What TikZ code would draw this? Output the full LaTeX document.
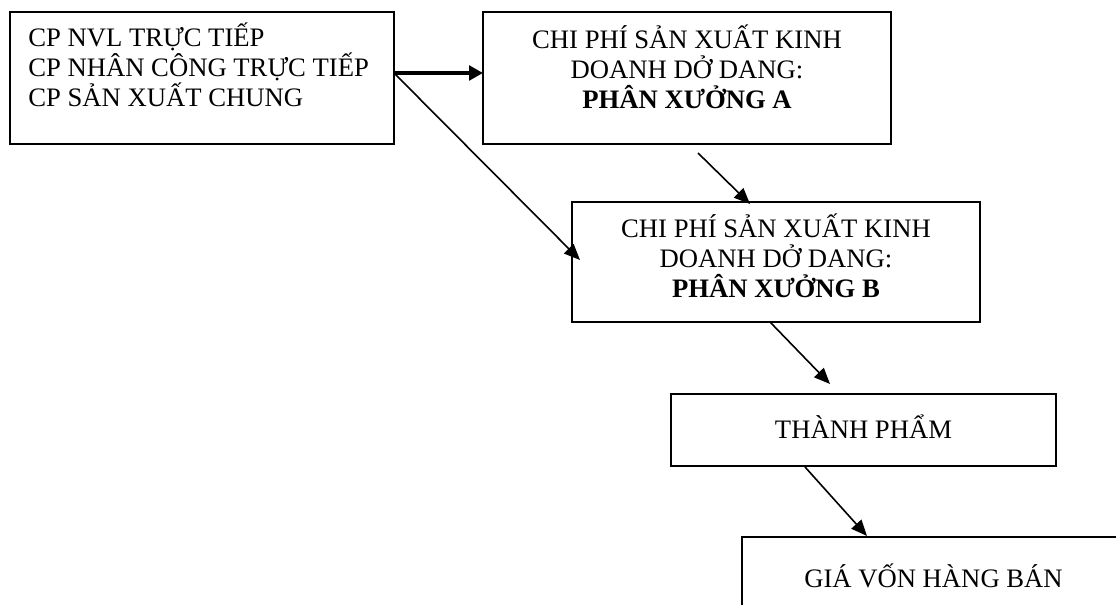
\documentclass[tikz,border=0pt]{standalone}
\usepackage{fontspec}
\setmainfont{Liberation Serif}
\usetikzlibrary{arrows.meta,calc}

\tikzset{
  box/.style={draw, line width=1.4pt, outer sep=0pt, inner sep=0pt},
  label text/.style={inner sep=0pt, font=\fontsize{20}{22.5}\selectfont, align=center},
  flow/.style={line width=1.2pt, -{Triangle[length=12pt,width=10pt]}},
  mainflow/.style={line width=3pt, -{Triangle[length=10.5pt,width=11pt]}}
}

\begin{document}
\begin{tikzpicture}[x=0.75pt, y=-0.75pt]
  \useasboundingbox (0,0) rectangle (1116,605);
  \fill[white] (0,0) rectangle (1116,605);
  \clip (0,0) rectangle (1116,605);

  % boxes
  \node[box, minimum width=288pt,    minimum height=99pt] (src) at (202,78) {};
  \node[box, minimum width=306pt,    minimum height=99pt] (A)   at (687,78) {};
  \node[box, minimum width=306pt,    minimum height=90pt] (B)   at (776,262) {};
  \node[box, minimum width=288.75pt, minimum height=54pt] (TP)  at (863.5,430) {};
  \node[box, minimum width=287.25pt, minimum height=60pt] (GV)  at (933.5,577) {};

  % box texts
  \node[label text, align=left, anchor=west] (srcT) at ($(src.west)+(18,-13)$)
    {CP NVL TRỰC TIẾP\\CP NHÂN CÔNG TRỰC TIẾP\\CP SẢN XUẤT CHUNG};
  \node[label text] (AT) at ($(A.center)+(0,-11)$)
    {CHI PHÍ SẢN XUẤT KINH\\DOANH DỞ DANG:\\\textbf{PHÂN XƯỞNG A}};
  \node[label text] (BT) at ($(B.center)+(0,-6)$)
    {CHI PHÍ SẢN XUẤT KINH\\DOANH DỞ DANG:\\\textbf{PHÂN XƯỞNG B}};
  \node[label text] (TPT) at ($(TP.center)+(0,-3)$) {THÀNH PHẨM};
  \node[label text] (GVT) at ($(GV.center)+(0,-1)$) {GIÁ VỐN HÀNG BÁN};

  \coordinate (r1) at (0,73);

  % connectors
  \draw[mainflow] (src.east |- r1) -- (A.west |- r1);
  \draw[flow] (src.east |- r1) -- ($(B.west)+(8,-2)$);
  \draw[flow] ($(A.south west)+(215,9)$) -- ($(B.north west)+(178,2)$);
  \draw[flow] ($(B.south west)+(198,0)$) -- ($(TP.north west)+(159,-10)$);
  \draw[flow] ($(TP.south west)+(134,1)$) -- ($(GV.north west)+(125,-1)$);
\end{tikzpicture}
\end{document}
